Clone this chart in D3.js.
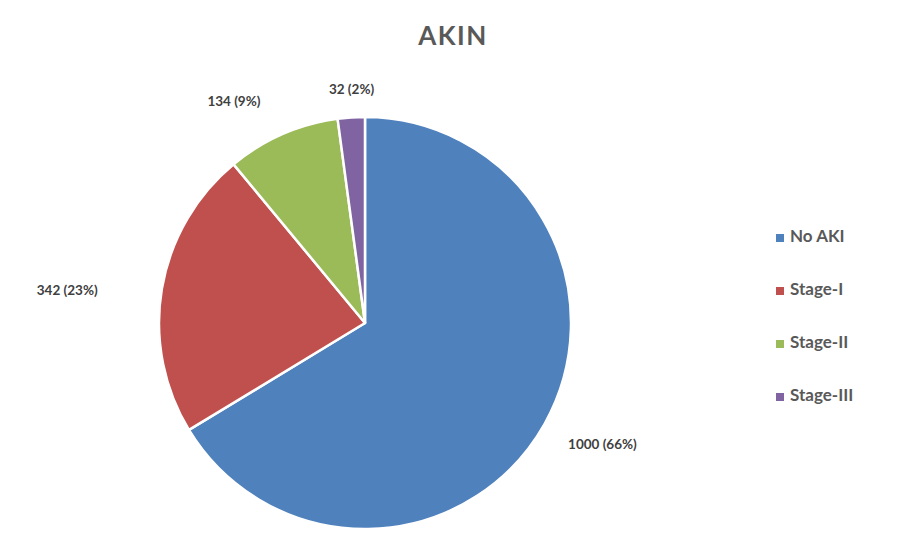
<!DOCTYPE html>
<html>
<head>
<meta charset="utf-8">
<script src="https://cdn.jsdelivr.net/npm/d3@7"></script>
<style>
  html, body { margin: 0; padding: 0; background: #fff; }
  svg { display: block; }
</style>
</head>
<body>
<svg id="chart" width="910" height="536"></svg>
<script>
const categories = ["No AKI", "Stage-I", "Stage-II", "Stage-III"];
const values = [1000, 342, 134, 32];
const percentLabels = ["66%", "23%", "9%", "2%"];
const colors = ["#4F81BD", "#C0504D", "#9BBB59", "#8064A2"];
const title = "AKIN";

const svg = d3.select("#chart");
const cx = 365, cy = 323, R = 206;
const font = "Lato, 'Open Sans', sans-serif";

svg.append("text")
  .attr("x", 453).attr("y", 45)
  .attr("text-anchor", "middle")
  .attr("font-family", font)
  .attr("font-size", 26)
  .attr("font-weight", 700)
  .attr("letter-spacing", 1.5)
  .attr("fill", "#595959")
  .text(title);

const data = categories.map((c, i) => ({ cat: c, value: values[i], pct: percentLabels[i], color: colors[i] }));

const pie = d3.pie().value(d => d.value).sort(null);
const arcs = pie(data);
const arc = d3.arc().innerRadius(0).outerRadius(R);

const g = svg.append("g").attr("transform", `translate(${cx},${cy})`);
g.selectAll("path").data(arcs).join("path")
  .attr("d", arc)
  .attr("fill", d => d.data.color)
  .attr("stroke", "#fff")
  .attr("stroke-width", 2.5)
  .attr("stroke-linejoin", "round");

// labels placed outside the pie along each slice's mid-angle, nudged like the original
const labelR = R * 1.2;
const labelNudge = [[22, 1], [-54, 10], [-32, 6], [3, 14]];
g.selectAll("text.lbl").data(arcs).join("text")
  .attr("class", "lbl")
  .each(function(d, i) {
    const a = (d.startAngle + d.endAngle) / 2;
    d3.select(this)
      .attr("x", Math.sin(a) * labelR + labelNudge[i][0])
      .attr("y", -Math.cos(a) * labelR + labelNudge[i][1]);
  })
  .attr("text-anchor", "middle")
  .attr("dominant-baseline", "middle")
  .attr("font-family", font)
  .attr("font-size", 13.5)
  .attr("font-weight", 700)
  .attr("fill", "#404040")
  .text(d => `${d.data.value} (${d.data.pct})`);

const legend = svg.append("g").attr("transform", "translate(776,238)");
const ly = d3.scalePoint().domain(categories).range([0, 159]);
const li = legend.selectAll("g").data(data).join("g")
  .attr("transform", d => `translate(0,${ly(d.cat)})`);
li.append("rect").attr("x", 0).attr("y", -4).attr("width", 8).attr("height", 8).attr("fill", d => d.color);
li.append("text").attr("x", 14).attr("y", 0)
  .attr("dominant-baseline", "middle")
  .attr("font-family", font)
  .attr("font-size", 17)
  .attr("font-weight", 700)
  .attr("fill", "#595959")
  .text(d => d.cat);
</script>
</body>
</html>
